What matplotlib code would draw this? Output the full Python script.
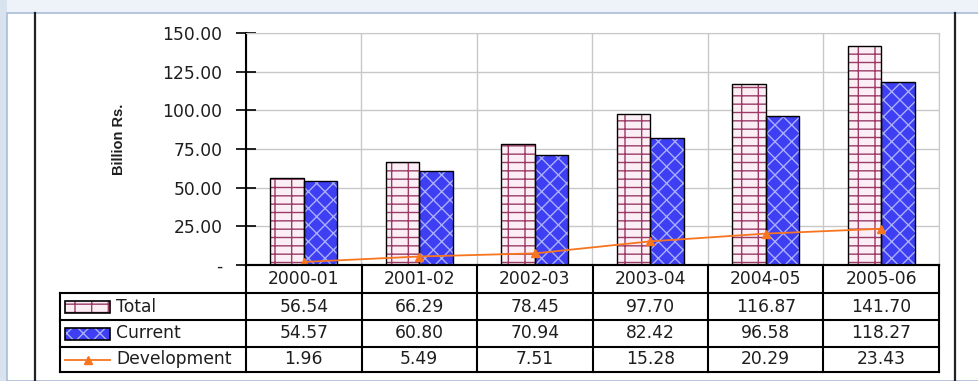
import matplotlib
matplotlib.use("Agg")
import matplotlib.pyplot as plt
from matplotlib.patches import Rectangle
from matplotlib.lines import Line2D
import numpy as np

years = ["2000-01", "2001-02", "2002-03", "2003-04", "2004-05", "2005-06"]
total = [56.54, 66.29, 78.45, 97.70, 116.87, 141.70]
current = [54.57, 60.80, 70.94, 82.42, 96.58, 118.27]
development = [1.96, 5.49, 7.51, 15.28, 20.29, 23.43]
series_names = ["Total", "Current", "Development"]
yticks = [0, 25, 50, 75, 100, 125, 150]
ytick_labels = ["-", "25.00", "50.00", "75.00", "100.00", "125.00", "150.00"]

W, H = 979, 381
plt.rcParams['hatch.linewidth'] = 1.0
fig = plt.figure(figsize=(W / 100, H / 100), dpi=100, facecolor="#eef2f9")

def fx(px):
    return px / W

def fy(py):
    return 1 - py / H

# left bluish strip and white panel with border
fig.patches.append(Rectangle((0, 0), fx(7), 1, transform=fig.transFigure,
                             facecolor="#d9e3f0", edgecolor="none", zorder=-6))
fig.patches.append(Rectangle((fx(7), 0), 1 - fx(7), fy(13), transform=fig.transFigure,
                             facecolor="white", edgecolor="#a9bdd8", lw=1.2, zorder=-5))
for xp in (35, 955):
    fig.add_artist(Line2D([fx(xp), fx(xp)], [fy(13), 0], transform=fig.transFigure,
                          color="#222222", lw=1.6))

FONT = "DejaVu Sans"
FS = 12.3
TXT = "#1e1e1e"

L, R, T, B = 246, 939, 33, 265
ax = fig.add_axes([fx(L), fy(B), fx(R) - fx(L), fy(T) - fy(B)])
ax.set_facecolor("white")
x = np.arange(len(years))
bw = 0.29

brick_face = "#fbeff5"
brick_line = "#9b3b66"
blue_face = "#3e3ef2"
blue_line = "#a9afff"

ax.bar(x - bw / 2, total, bw, facecolor=brick_face, edgecolor=brick_line, hatch="--|", lw=0, zorder=2)
ax.bar(x - bw / 2, total, bw, fill=False, edgecolor="black", lw=1.0, zorder=3)
ax.bar(x + bw / 2, current, bw, facecolor=blue_face, edgecolor=blue_line, hatch="xx", lw=0, zorder=2)
ax.bar(x + bw / 2, current, bw, fill=False, edgecolor="black", lw=1.0, zorder=3)
ax.plot(x, development, color="#f7751f", lw=1.3, marker="^", ms=6, zorder=4)

ax.set_xlim(-0.5, len(years) - 0.5)
ax.set_ylim(0, 150)
ax.set_yticks(yticks)
ax.set_yticklabels(ytick_labels, fontsize=FS, family=FONT, color=TXT)
ax.tick_params(axis="y", direction="inout", length=14, width=1.2, pad=10)
ax.set_xticks([])
ax.set_xticks(np.arange(len(years) + 1) - 0.5, minor=True)
ax.grid(axis="x", which="minor", color="#c8c8c8", lw=1)
ax.grid(axis="y", which="major", color="#c8c8c8", lw=1)
ax.set_axisbelow(True)
for s in ("top", "right"):
    ax.spines[s].set_color("#c8c8c8")
ax.spines["left"].set_linewidth(1.5)
ax.spines["bottom"].set_linewidth(1.5)
ax.tick_params(axis="x", which="minor", length=0)

fig.text(fx(119), fy(139), "Billion Rs.", rotation=90, ha="center", va="center",
         fontsize=10.5, fontweight="bold", family="Liberation Sans", color=TXT)

# data table
rows_y = [265, 293, 320, 347, 372]
col_x = [L + (R - L) * i / len(years) for i in range(len(years) + 1)]
tl = dict(transform=fig.transFigure, color="black", lw=1.5)
for i, yp in enumerate(rows_y):
    x0 = L if i == 0 else 60
    fig.add_artist(Line2D([fx(x0), fx(R)], [fy(yp), fy(yp)], **tl))
for cx in col_x:
    fig.add_artist(Line2D([fx(cx), fx(cx)], [fy(265), fy(372)], **tl))
fig.add_artist(Line2D([fx(60), fx(60)], [fy(293), fy(372)], **tl))

for j, yr in enumerate(years):
    cx = (col_x[j] + col_x[j + 1]) / 2
    fig.text(fx(cx), fy((rows_y[0] + rows_y[1]) / 2), yr, ha="center", va="center",
             fontsize=FS, family=FONT, color=TXT)
    for r, vals in enumerate([total, current, development]):
        fig.text(fx(cx), fy((rows_y[r + 1] + rows_y[r + 2]) / 2), f"{vals[j]:.2f}",
                 ha="center", va="center", fontsize=FS, family=FONT, color=TXT)

# legend keys
for r, name in enumerate(series_names):
    yc = (rows_y[r + 1] + rows_y[r + 2]) / 2
    if r == 0:
        fig.patches.append(Rectangle((fx(65), fy(yc + 6)), fx(110) - fx(65), fy(yc - 6) - fy(yc + 6),
                                     transform=fig.transFigure, facecolor=brick_face,
                                     edgecolor=brick_line, hatch="--|", lw=0))
        fig.patches.append(Rectangle((fx(65), fy(yc + 6)), fx(110) - fx(65), fy(yc - 6) - fy(yc + 6),
                                     transform=fig.transFigure, fill=False, edgecolor="black", lw=1.2))
    elif r == 1:
        fig.patches.append(Rectangle((fx(65), fy(yc + 6)), fx(110) - fx(65), fy(yc - 6) - fy(yc + 6),
                                     transform=fig.transFigure, facecolor=blue_face,
                                     edgecolor=blue_line, hatch="xx", lw=0))
        fig.patches.append(Rectangle((fx(65), fy(yc + 6)), fx(110) - fx(65), fy(yc - 6) - fy(yc + 6),
                                     transform=fig.transFigure, fill=False, edgecolor="black", lw=1.2))
    else:
        fig.add_artist(Line2D([fx(65), fx(110)], [fy(yc), fy(yc)], transform=fig.transFigure,
                              color="#f7751f", lw=1.3))
        fig.add_artist(Line2D([fx(88)], [fy(yc)], transform=fig.transFigure, color="#f7751f",
                              marker="^", ms=6, lw=0))
    fig.text(fx(116), fy(yc), name, ha="left", va="center", fontsize=FS, family=FONT, color=TXT)

fig.savefig("out.png", dpi=100, facecolor=fig.get_facecolor())
